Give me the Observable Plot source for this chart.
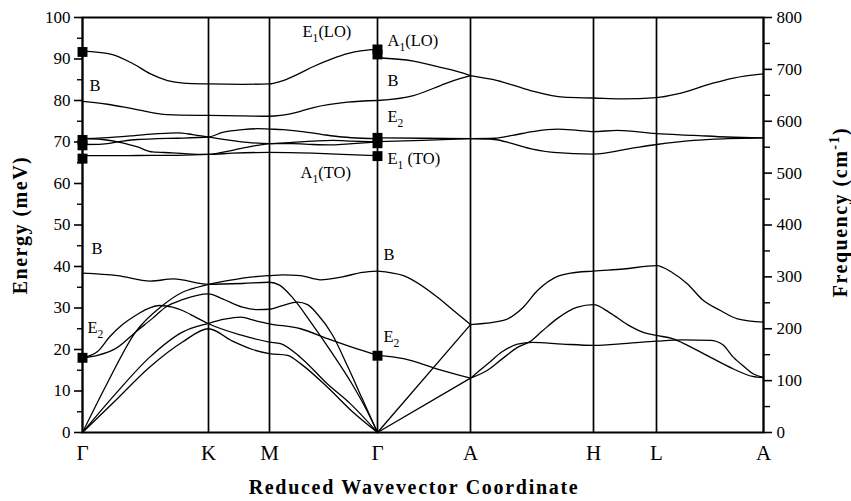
<!DOCTYPE html>
<html><head><meta charset="utf-8">
<script src="https://cdn.jsdelivr.net/npm/d3@7"></script>
<script src="https://cdn.jsdelivr.net/npm/@observablehq/plot@0.6"></script>
<style>body{margin:0;background:#fff}svg{display:block}</style>
</head><body><div id="chart"></div>
<script>
// High-symmetry points (reduced coordinate, arbitrary units along path)
const symX = [0, 126, 187, 295, 388, 511, 574, 681];
const symLabels = ["Γ", "K", "M", "Γ", "A", "H", "L", "A"];
const yTicks = [0, 10, 20, 30, 40, 50, 60, 70, 80, 90, 100];
const freqTicks = [0, 100, 200, 300, 400, 500, 600, 700, 800];

// Branches (x, energy meV) — Γ-K-M-Γ section
const gkmg_LO   = [[0,91.9],[28,91.2],[51,88.8],[68,86.4],[85,84.8],[101,84.2],[126,84.0],[160,83.9],[187,84.0],[198,84.6],[215,86.3],[231,88.2],[250,90.1],[265,91.3],[280,92.0],[295,92.3]];
const gkmg_B1h  = [[0,79.8],[25,79.1],[51,78.0],[85,76.6],[126,76.4],[160,76.3],[187,76.2],[198,76.4],[218,77.4],[231,78.3],[265,79.6],[295,80.0]];
const gkmg_m1   = [[0,70.8],[20,71.0],[50,71.5],[75,72.0],[95,72.2],[110,71.8],[126,71.2],[145,70.5],[165,69.9],[187,69.6],[210,69.6],[230,69.4],[250,69.3],[270,69.6],[295,70.0]];
const gkmg_m2   = [[0,69.4],[20,69.5],[40,70.2],[55,70.6],[75,70.8],[95,70.9],[126,71.2],[140,72.3],[160,73.0],[175,73.2],[187,73.1],[200,73.0],[220,72.5],[240,71.8],[260,71.2],[280,70.9],[295,70.8]];
const gkmg_m3   = [[0,70.8],[20,70.6],[40,69.8],[55,68.8],[70,67.6],[90,67.4],[110,67.1],[126,67.0],[150,67.3],[187,67.5],[230,67.3],[260,67.0],[295,66.7]];
const gkmg_m4   = [[0,66.7],[40,66.7],[70,66.8],[95,66.8],[126,67.0],[150,68.0],[170,69.0],[187,69.6],[210,69.9],[230,70.2],[250,70.4],[270,70.2],[295,70.0]];
const gkmg_LA   = [[0,0],[25,12],[53,24.2],[80,30.6],[100,33.8],[115,35.0],[126,35.7],[150,36.8],[170,37.5],[187,37.8],[200,38.0],[218,37.8],[238,36.8],[260,37.5],[280,38.6],[295,38.9]];
const gkmg_B1l  = [[0,38.4],[35,37.8],[68,36.5],[91,37.0],[126,35.7],[160,35.9],[187,36.2],[197,35.5],[210,32.5],[230,26.0],[250,19.0],[270,11.5],[285,5.0],[295,0]];
const gkmg_E2a  = [[0,18.0],[15,18.6],[33,20.2],[55,24.6],[70,27.5],[83,30.2],[100,32.0],[126,33.4],[140,32.2],[160,30.2],[175,29.6],[187,29.7],[200,30.6],[215,31.4],[225,30.8],[235,28.5],[250,23.5],[265,16.0],[280,8.0],[295,0]];
const gkmg_E2b  = [[0,18.0],[15,19.5],[27,23.0],[40,26.0],[53,28.2],[65,29.8],[77,30.6],[90,30.2],[100,29.4],[113,27.8],[126,26.2],[158,23.5],[187,21.8],[198,21.4],[218,18.1],[245,11.7],[268,6.9],[295,0]];
const gkmg_TA1  = [[0,0],[33,9.3],[67,18.1],[100,24.2],[126,26.3],[142,27.3],[158,27.8],[172,27.0],[187,26.2],[218,25.0],[245,22.6],[270,20.5],[295,18.6]];
const gkmg_TA2  = [[0,0],[33,7.7],[67,15.7],[100,21.8],[126,25.0],[150,22.0],[170,20.0],[187,19.0],[205,18.6],[218,16.6],[245,10.9],[270,5.0],[295,0]];

// Γ-A section
const ga_LO  = [[295,90.3],[331,89.5],[358,88.0],[378,86.8],[388,86.0]];
const ga_B1h = [[295,80.0],[331,81.2],[358,83.6],[371,84.8],[388,86.0]];
const ga_m1  = [[295,71.0],[340,70.9],[388,70.8]];
const ga_m2  = [[295,70.1],[340,70.4],[388,70.8]];
const ga_B1l = [[295,38.9],[321,37.8],[355,32.6],[371,29.4],[388,26.0]];
const ga_LA  = [[295,0],[388,26.0]];
const ga_E2  = [[295,18.6],[321,17.8],[355,15.3],[388,13.1]];
const ga_TA  = [[295,0],[388,13.1]];

// A-H-L-A section
const ahla_top  = [[388,86.0],[415,84.8],[448,82.4],[481,80.8],[511,80.6],[540,80.4],[574,80.7],[595,81.6],[628,84.0],[651,85.4],[681,86.4]];
const ahla_mU   = [[388,70.8],[412,70.9],[430,71.6],[450,72.5],[475,73.1],[495,72.8],[511,72.5],[535,72.8],[574,72.0],[611,71.6],[645,71.2],[681,71.0]];
const ahla_mL   = [[388,70.8],[412,70.6],[430,69.6],[450,68.3],[471,67.5],[511,67.1],[545,68.3],[574,69.4],[611,70.4],[645,70.8],[681,71.0]];
const ahla_lowU = [[388,26.0],[421,27.0],[440,30.0],[455,34.2],[475,37.6],[488,38.4],[511,38.9],[541,39.4],[574,40.2],[590,38.5],[605,35.8],[620,32.0],[638,29.4],[655,27.4],[681,26.6]];
const ahla_peak = [[388,13.1],[405,15.0],[420,17.8],[435,20.5],[448,22.0],[460,24.5],[475,27.5],[495,30.2],[511,30.8],[527,28.9],[545,26.0],[560,24.2],[574,23.4],[590,22.6],[605,21.0],[628,18.1],[651,15.3],[670,13.5],[681,13.2]];
const ahla_flat = [[388,13.1],[405,16.5],[420,19.5],[435,21.3],[450,21.7],[480,21.3],[511,21.0],[545,21.5],[574,22.0],[600,22.3],[628,22.2],[640,21.2],[651,18.1],[662,15.8],[671,14.1],[681,13.3]];

// Experimental points (squares)
const expG1 = [91.7, 70.5, 69.2, 66.0, 18.0];
const expG2 = [92.3, 91.1, 71.0, 69.7, 66.6, 18.5];

// Mode labels
const modeLabels = [
  {x: 7,   y: 83.6, t: "B"},
  {x: 9,   y: 44.3, t: "B"},
  {x: 5,   y: 25.3, t: "E_2"},
  {x: 220, y: 96.6, t: "E_1(LO)"},
  {x: 305, y: 94.5, t: "A_1(LO)"},
  {x: 305, y: 84.8, t: "B"},
  {x: 305, y: 76.1, t: "E_2"},
  {x: 305, y: 66.0, t: "E_1 (TO)"},
  {x: 218, y: 62.7, t: "A_1(TO)"},
  {x: 301, y: 42.9, t: "B"},
  {x: 301, y: 23.1, t: "E_2"}
];

const branches = {gkmg_LO, gkmg_B1h, gkmg_m1, gkmg_m2, gkmg_m3, gkmg_m4, gkmg_LA, gkmg_B1l, gkmg_E2a, gkmg_E2b, gkmg_TA1, gkmg_TA2,
  ga_LO, ga_B1h, ga_m1, ga_m2, ga_B1l, ga_LA, ga_E2, ga_TA,
  ahla_top, ahla_mU, ahla_mL, ahla_lowU, ahla_peak, ahla_flat};
const rows = [];
for (const [id, pts] of Object.entries(branches)) for (const [x, y] of pts) rows.push({id, x, y});
const markers = [...expG1.map(y => ({x: symX[0], y})), ...expG2.map(y => ({x: symX[3], y}))];
const labelOf = new Map(symX.map((v, i) => [v, symLabels[i]]));

const serif = "'Liberation Serif', 'Times New Roman', 'DejaVu Serif', serif";
const titleY = "Energy (meV)";
const titleY2 = "Frequency (cm^-1)";
const titleX = "Reduced Wavevector Coordinate";

const chart = Plot.plot({
  width: 851, height: 501,
  marginLeft: 82, marginRight: 88, marginTop: 17, marginBottom: 69,
  x: {domain: [0, 681], axis: null},
  y: {domain: [0, 100], axis: null},
  style: {fontFamily: serif, background: "white", color: "black"},
  marks: [
    Plot.ruleX(symX, {stroke: "black", strokeWidth: 1.7}),
    Plot.frame({stroke: "black", strokeWidth: 2}),
    Plot.axisY({anchor: "left", label: null, ticks: yTicks, tickSize: 8, tickPadding: 4, fontSize: 17, strokeWidth: 1.6}),
    Plot.axisY({anchor: "left", label: null, ticks: d3.range(5, 100, 10), tickSize: 5, tickFormat: () => "", strokeWidth: 1.4}),
    Plot.axisY({anchor: "right", label: null, ticks: freqTicks.map(v => v / 8), tickFormat: d => String(Math.round(d * 8)), tickSize: 8, tickPadding: 5, fontSize: 17, strokeWidth: 1.6}),
    Plot.axisY({anchor: "right", label: null, ticks: d3.range(50, 800, 100).map(v => v / 8), tickSize: 6, tickFormat: () => "", strokeWidth: 1.4}),
    Plot.axisX({anchor: "bottom", label: null, ticks: symX, tickFormat: d => labelOf.get(d), tickSize: 0, tickPadding: 13, fontSize: 21}),
    Plot.line(rows, {x: "x", y: "y", z: "id", curve: "monotone-x", stroke: "black", strokeWidth: 1.3}),
    Plot.dot(markers, {x: "x", y: "y", symbol: "square", r: 5.6, fill: "black", stroke: null}),
    Plot.text(modeLabels, {x: "x", y: "y", text: "t", textAnchor: "start", fontSize: 16.5, fill: "black"}),
    Plot.text([titleY], {frameAnchor: "left", dx: -62, rotate: -90, textAnchor: "middle", fontSize: 20, fontWeight: "bold", fill: "black"}),
    Plot.text([titleY2], {frameAnchor: "right", dx: 77, dy: -13, rotate: -90, textAnchor: "middle", fontSize: 20, fontWeight: "bold", fill: "black"}),
    Plot.text([titleX], {frameAnchor: "bottom", dx: -9, dy: 61, textAnchor: "middle", fontSize: 20, fontWeight: "bold", fill: "black"})
  ]
});

const ns = "http://www.w3.org/2000/svg";
chart.querySelectorAll("text").forEach(t => {
  const s = t.textContent;
  if (s === titleX) t.style.letterSpacing = "1.7px";
  if (s === titleY || s === titleY2) t.style.letterSpacing = "1.5px";
  // Render _x as subscript and ^x as superscript using tspans
  const m = s.match(/^(.*?)([_^])(-?\d)(.*)$/);
  if (!m) return;
  const [, pre, kind, sc, post] = m;
  const shift = kind === "_" ? 5 : -8;
  t.textContent = "";
  const a = document.createElementNS(ns, "tspan"); a.textContent = pre;
  const b = document.createElementNS(ns, "tspan"); b.textContent = sc; b.setAttribute("dy", shift); b.setAttribute("font-size", "70%");
  const c = document.createElementNS(ns, "tspan"); c.textContent = post; c.setAttribute("dy", -shift);
  t.append(a, b, c);
});

document.getElementById("chart").append(chart);
</script>
</body></html>
